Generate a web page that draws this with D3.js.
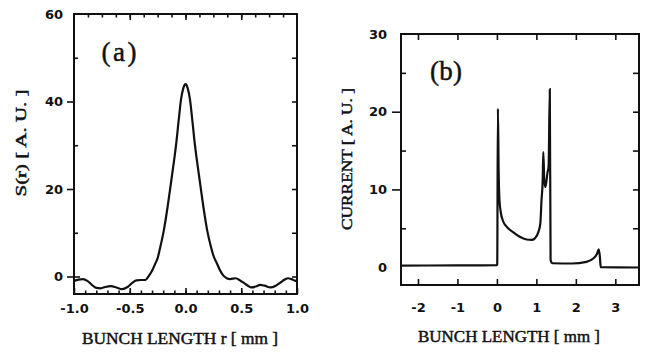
<!DOCTYPE html>
<html><head><meta charset="utf-8">
<script src="https://cdn.jsdelivr.net/npm/d3@7"></script>
<style>
body{margin:0;background:#fff;}
svg{display:block;}
.tl text{font-family:"DejaVu Sans",sans-serif;font-weight:bold;font-size:13px;fill:#111;}
.ttl{font-family:"Liberation Serif",serif;fill:#111;stroke:#111;stroke-width:0.45px;}
</style></head><body>
<script>
// Panel (a): S(r) vs bunch length r [mm]
const aR = [-1.0,-0.96,-0.92,-0.88,-0.84,-0.80,-0.76,-0.72,-0.67,-0.62,-0.57,-0.52,-0.48,-0.44,-0.40,-0.36,-0.33,-0.30,-0.27,-0.25,-0.228,-0.194,-0.16,-0.127,-0.10,-0.085,-0.06,-0.04,-0.02,-0.008,0,
  0.008,0.02,0.04,0.06,0.085,0.10,0.127,0.16,0.194,0.228,0.25,0.28,0.31,0.34,0.37,0.40,0.45,0.49,0.52,0.56,0.59,0.63,0.67,0.71,0.76,0.81,0.85,0.89,0.92,0.95,0.98,1.0];
const aS = [-1.0,-0.7,-0.6,-1.0,-1.9,-2.6,-2.7,-2.4,-2.2,-2.5,-2.9,-2.4,-1.5,-0.9,-0.8,-0.8,0.1,1.3,3.0,4.2,6.5,10.6,16,22,27,30,36,40.5,43,43.8,44,
  43.8,43,40.5,36,30,27,22,16,10.6,6.8,4.8,3.1,1.4,0.2,-0.4,-0.6,-0.4,-0.9,-1.4,-2.1,-2.5,-2.3,-1.9,-2.1,-2.5,-2.1,-1.4,-0.7,-0.4,-0.6,-0.95,-1.1];
const aXTicks = [-1.0,-0.5,0.0,0.5,1.0];
const aXLabels = ["-1.0","-0.5","0.0","0.5","1.0"];
const aYTicks = [0,20,40,60];
const aYLabels = ["0","20","40","60"];

// Panel (b): current vs bunch length [mm]
const bX = [-2.43,-1.0,0.0,0.008,0.025,0.045,0.065,0.10,0.15,0.245,0.41,0.58,0.75,0.88,0.96,1.05,1.10,1.13,1.16,1.175,1.20,1.23,1.28,1.31,1.34,1.36,1.41,1.90,2.27,2.44,2.54,2.58,2.61,2.63,3.60];
const bI = [0.2,0.22,0.25,0.4,20.4,12.0,8.6,7.0,6.0,5.2,4.5,3.9,3.56,3.5,3.7,4.5,5.6,8.6,11.2,14.8,11.2,10.3,12.1,13.0,22.9,0.9,0.5,0.47,0.68,1.1,1.76,2.3,1.3,0.0,-0.05];
const bXTicks = [-2,-1,0,1,2,3];
const bXLabels = ["-2","-1","0","1","2","3"];
const bYTicks = [0,10,20,30];
const bYLabels = ["0","10","20","30"];

const W=649,H=353;
const svg=d3.select("body").append("svg").attr("width",W).attr("height",H);

function ticks(g, axisGen){ g.call(axisGen); g.select(".domain").remove(); g.selectAll("line").attr("stroke","#111").attr("stroke-width",1.6); }

// ---------- Panel a ----------
const ax=d3.scaleLinear().domain([-1,1]).range([74,297]);
const ay=d3.scaleLinear().domain([-4,60]).range([294,14]);
const ga=svg.append("g");
ga.append("g").attr("transform","translate(0,294)").call(g=>ticks(g,d3.axisBottom(ax).tickValues(d3.range(-9,10).map(i=>i/10)).tickSize(-3.5).tickFormat("")));
ga.append("g").attr("transform","translate(0,294)").call(g=>ticks(g,d3.axisBottom(ax).tickValues(aXTicks).tickSize(-6).tickFormat("")));
ga.append("g").attr("transform","translate(0,14)").call(g=>ticks(g,d3.axisTop(ax).tickValues(d3.range(-7,8).map(i=>i/8)).tickSize(-3.5).tickFormat("")));
ga.append("g").attr("transform","translate(0,14)").call(g=>ticks(g,d3.axisTop(ax).tickValues([-0.5,0,0.5]).tickSize(-6).tickFormat("")));
ga.append("g").attr("transform","translate(74,0)").call(g=>ticks(g,d3.axisLeft(ay).tickValues([10,30,50]).tickSize(-4).tickFormat("")));
ga.append("g").attr("transform","translate(74,0)").call(g=>ticks(g,d3.axisLeft(ay).tickValues([0,20,40]).tickSize(7).tickFormat("")));
ga.append("g").attr("transform","translate(74,0)").call(g=>ticks(g,d3.axisLeft(ay).tickValues([0]).tickSize(-6).tickFormat("")));
ga.append("g").attr("transform","translate(297,0)").call(g=>ticks(g,d3.axisRight(ay).tickValues([0,10,20,30,40,50]).tickSize(-5).tickFormat("")));
ga.append("g").attr("class","tl").attr("transform","translate(0,294)").call(g=>{g.call(d3.axisBottom(ax).tickValues(aXTicks).tickSize(0).tickPadding(10).tickFormat((d,i)=>aXLabels[i]));g.select(".domain").remove();});
ga.append("g").attr("class","tl").attr("transform","translate(74,0)").call(g=>{g.call(d3.axisLeft(ay).tickValues(aYTicks).tickSize(0).tickPadding(11).tickFormat((d,i)=>aYLabels[i]));g.select(".domain").remove();});
ga.append("rect").attr("x",74).attr("y",14).attr("width",223).attr("height",280).attr("fill","none").attr("stroke","#111").attr("stroke-width",2);
ga.append("path").datum(aR.map((r,i)=>[r,aS[i]])).attr("fill","none").attr("stroke","#111").attr("stroke-width",2.2)
  .attr("d",d3.line().x(d=>ax(d[0])).y(d=>ay(d[1])).curve(d3.curveMonotoneX));
ga.append("text").attr("class","ttl").attr("x",119).attr("y",61).attr("text-anchor","middle").attr("font-size",27).attr("textLength",35).text("(a)");
ga.append("text").attr("class","ttl").attr("x",180).attr("y",344).attr("text-anchor","middle").attr("font-size",16).attr("textLength",196).attr("lengthAdjust","spacingAndGlyphs").text("BUNCH LENGTH r [ mm ]");
ga.append("text").attr("class","ttl").attr("transform","translate(26,143) rotate(-90)").attr("text-anchor","middle").attr("font-size",14.5).attr("textLength",107).attr("lengthAdjust","spacingAndGlyphs").text("S(r) [ A. U. ]");

// ---------- Panel b ----------
const bx=d3.scaleLinear().domain([-2.43,3.6]).range([401,639]);
const by=d3.scaleLinear().domain([-2.3,30]).range([285,34]);
const gb=svg.append("g");
gb.append("g").attr("transform","translate(0,285)").call(g=>ticks(g,d3.axisBottom(bx).tickValues(bXTicks).tickSize(-6).tickFormat("")));
gb.append("g").attr("transform","translate(0,34)").call(g=>ticks(g,d3.axisTop(bx).tickValues(bXTicks).tickSize(-6).tickFormat("")));
gb.append("g").attr("transform","translate(401,0)").call(g=>ticks(g,d3.axisLeft(by).tickValues([5,15,25]).tickSize(-5).tickFormat("")));
gb.append("g").attr("transform","translate(401,0)").call(g=>ticks(g,d3.axisLeft(by).tickValues([10,20]).tickSize(9).tickFormat("")));
gb.append("g").attr("transform","translate(639,0)").call(g=>ticks(g,d3.axisRight(by).tickValues([5,10,15,20,25]).tickSize(-6).tickFormat("")));
gb.append("g").attr("class","tl").attr("transform","translate(0,285)").call(g=>{g.call(d3.axisBottom(bx).tickValues(bXTicks).tickSize(0).tickPadding(18).tickFormat((d,i)=>bXLabels[i]));g.select(".domain").remove();});
gb.append("g").attr("class","tl").attr("transform","translate(401,0)").call(g=>{g.call(d3.axisLeft(by).tickValues(bYTicks).tickSize(0).tickPadding(14).tickFormat((d,i)=>bYLabels[i]));g.select(".domain").remove();});
gb.append("rect").attr("x",401).attr("y",34).attr("width",238).attr("height",251).attr("fill","none").attr("stroke","#111").attr("stroke-width",2);
gb.append("path").datum(bX.map((x,i)=>[x,bI[i]])).attr("fill","none").attr("stroke","#111").attr("stroke-width",2.2)
  .attr("d",d3.line().x(d=>bx(d[0])).y(d=>by(d[1])).curve(d3.curveMonotoneX));
gb.append("text").attr("class","ttl").attr("x",446).attr("y",80).attr("text-anchor","middle").attr("font-size",27).attr("textLength",32).text("(b)");
gb.append("text").attr("class","ttl").attr("x",509).attr("y",342).attr("text-anchor","middle").attr("font-size",16).attr("textLength",182).attr("lengthAdjust","spacingAndGlyphs").text("BUNCH LENGTH [ mm ]");
gb.append("text").attr("class","ttl").attr("transform","translate(352,159) rotate(-90)").attr("text-anchor","middle").attr("font-size",14.5).attr("textLength",142).attr("lengthAdjust","spacingAndGlyphs").text("CURRENT [ A. U. ]");
</script>
</body></html>
